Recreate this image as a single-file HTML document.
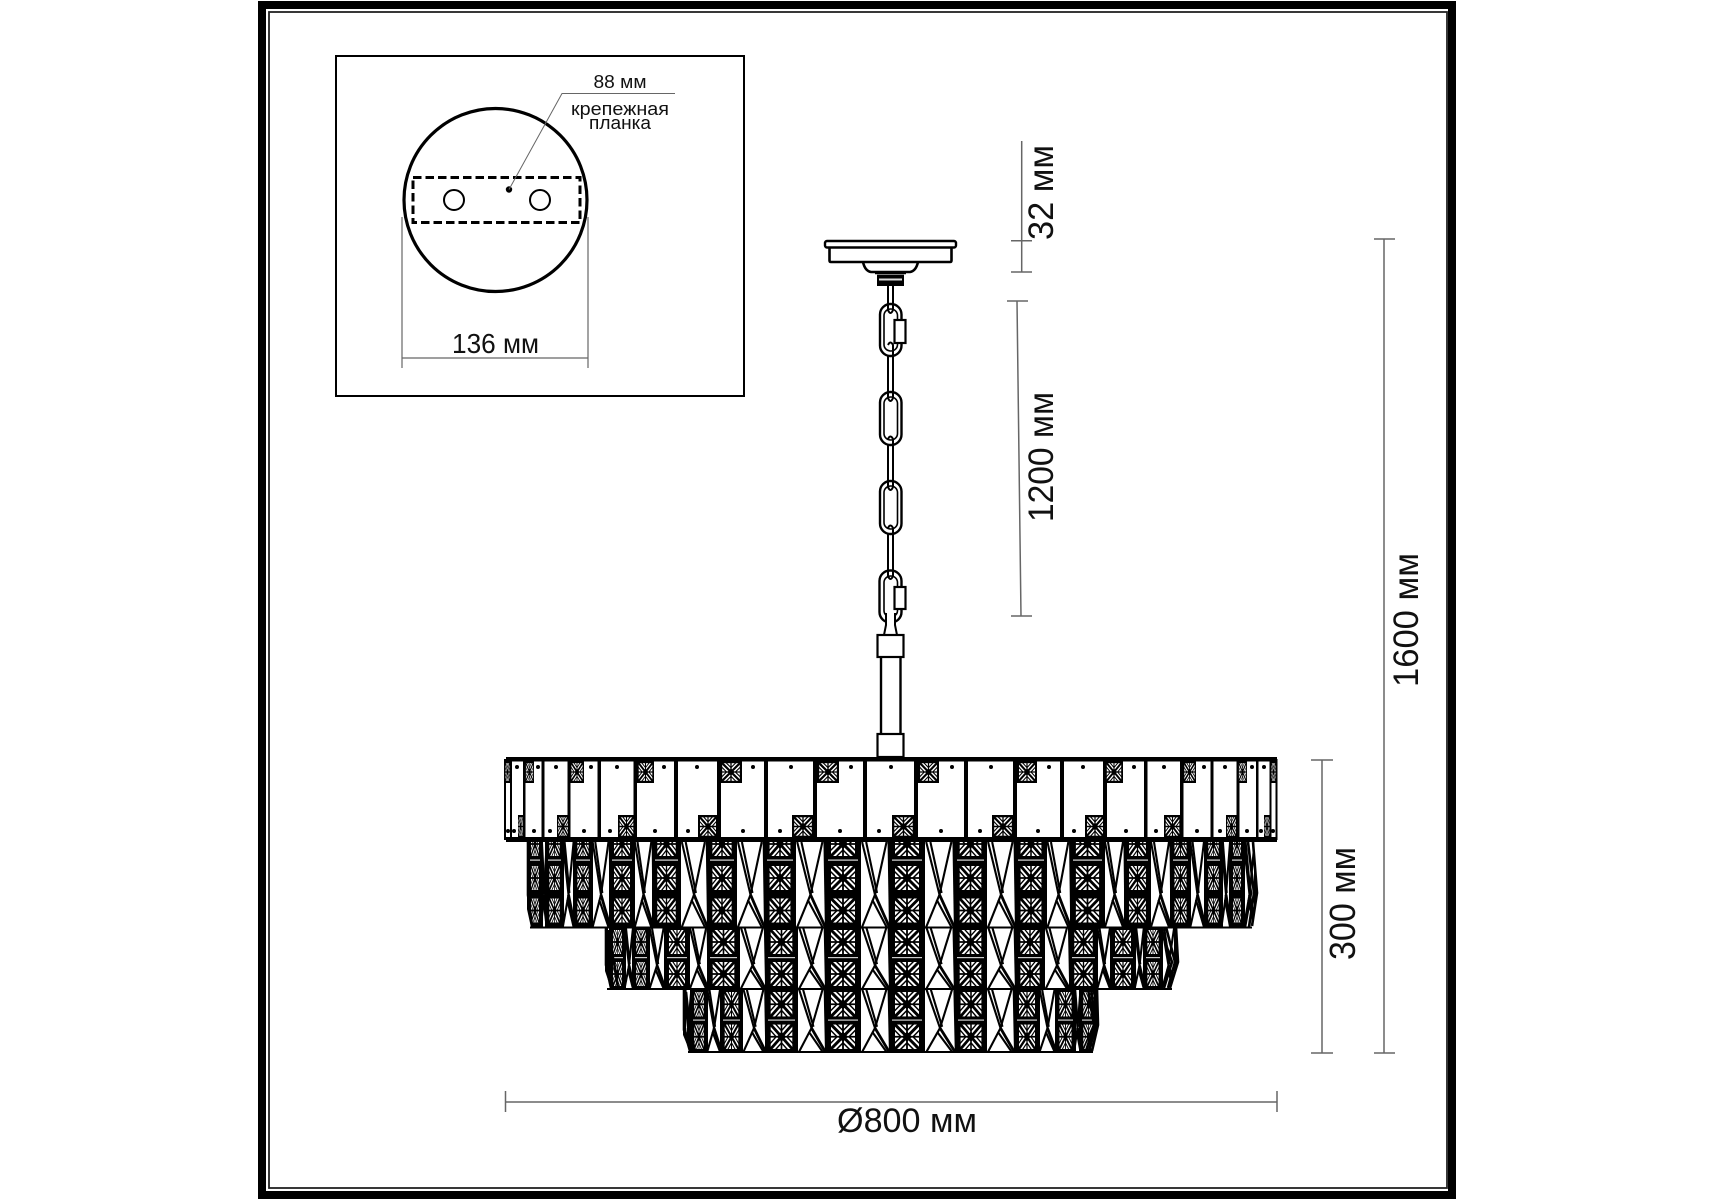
<!DOCTYPE html>
<html lang="ru"><head><meta charset="utf-8"><title>Чертёж люстры</title>
<style>
html,body{margin:0;padding:0;background:#fff}
svg{display:block}
.x *{vector-effect:non-scaling-stroke}
text{font-family:"Liberation Sans",sans-serif;fill:#111}
.d{stroke:#666;stroke-width:1.5;fill:none}
.k{stroke:#000;fill:none}
</style></head><body>
<svg xmlns="http://www.w3.org/2000/svg" width="1715" height="1200" viewBox="0 0 1715 1200">
<defs>
<g id="t0"><rect width="30" height="30" fill="#000"/><rect x="3" y="3" width="24" height="24" fill="#fff"/>
<g stroke="#000" fill="none"><path d="M2 2L28 28M28 2L2 28" stroke-width="3"/><path d="M15 2V28M2 15H28" stroke-width="1.8"/><path d="M8 2L15 9L22 2M8 28L15 21L22 28M2 8L9 15L2 22M28 8L21 15L28 22" stroke-width="1.5"/></g>
<path d="M15 10L20 15L15 20L10 15Z" fill="#000"/></g>
<symbol id="t" viewBox="0 0 30 30" preserveAspectRatio="none"><use href="#t0"/><rect x="0.5" y="0.5" width="29" height="29" fill="none" stroke="#000" stroke-width="3"/></symbol>
<symbol id="c1" viewBox="0 0 30 85" preserveAspectRatio="none"><rect width="30" height="85" fill="#000"/><use href="#t0" y="-13"/><rect y="17.5" width="30" height="1.2" fill="#ddd"/><use href="#t0" y="21"/><use href="#t0" y="53.5"/></symbol>
<symbol id="c2" viewBox="0 0 30 62" preserveAspectRatio="none"><rect width="30" height="62" fill="#000"/><use href="#t0" y="0"/><rect y="30" width="30" height="1.2" fill="#ccc"/><use href="#t0" y="32"/></symbol>
<symbol id="x" viewBox="0 0 100 100" preserveAspectRatio="none"><rect width="100" height="100" fill="#fff"/>
<g class="x" stroke="#000" fill="none" stroke-width="2.1"><line x1="0" y1="0" x2="0" y2="100" stroke-width="6"/><line x1="100" y1="0" x2="100" y2="100" stroke-width="6"/><line x1="12" y1="0" x2="50" y2="62"/><line x1="24" y1="0" x2="56" y2="60"/><line x1="84" y1="0" x2="50" y2="62"/><line x1="50" y1="62" x2="92" y2="100" stroke-width="2.8"/><line x1="42" y1="68" x2="84" y2="100"/><line x1="50" y1="62" x2="12" y2="100"/><line x1="90" y1="0" x2="94" y2="100"/></g></symbol>
</defs>
<rect width="1715" height="1200" fill="#fff"/>
<rect x="262" y="5" width="1190" height="1190" fill="none" stroke="#000" stroke-width="8"/>
<rect x="269" y="12" width="1178" height="1176" fill="none" stroke="#222" stroke-width="1.8"/>
<rect x="336" y="56" width="408" height="340" fill="#fff" stroke="#000" stroke-width="2"/>

<circle cx="495.5" cy="200" r="91.5" fill="none" stroke="#000" stroke-width="3.2"/>
<rect x="413" y="177.5" width="167" height="45" fill="none" stroke="#000" stroke-width="3" stroke-dasharray="8.5 4"/>
<circle cx="454" cy="200" r="10" fill="none" stroke="#000" stroke-width="2"/>
<circle cx="540" cy="200" r="10" fill="none" stroke="#000" stroke-width="2"/>
<circle cx="509" cy="189.5" r="3.2" fill="#000"/>
<path class="d" style="stroke-width:1" d="M509 189.5L562 93.5H675"/>
<text x="593.5" y="88" font-size="18" textLength="53" lengthAdjust="spacingAndGlyphs">88 мм</text>
<text x="571" y="115" font-size="18" textLength="98" lengthAdjust="spacingAndGlyphs">крепежная</text>
<text x="589" y="129" font-size="18" textLength="62" lengthAdjust="spacingAndGlyphs">планка</text>
<text x="452" y="353" font-size="28" textLength="87" lengthAdjust="spacingAndGlyphs">136 мм</text>
<path class="d" style="stroke-width:1.2" d="M402 217V368M588 217V368M402 358H588"/>

<!-- ceiling plate -->
<g class="k" stroke-width="2.4">
<rect x="825" y="241" width="131" height="6.5" rx="2" fill="#fff"/>
<path d="M829.5 248V260.5Q829.5 262 831 262H950Q951.5 262 951.5 260.5V248" stroke-width="2.6"/>
<path d="M863 262Q865 271 871 272H910Q916 271 918 262" stroke-width="2.6"/>
<path d="M875 273H906M877 276H904" stroke-width="2.4"/>
</g>
<rect x="877" y="276" width="27" height="10" fill="#000"/><rect x="879" y="278.5" width="23" height="2" fill="#ddd"/>

<!-- chain -->
<g class="k" stroke-width="2">
<path d="M888 286V322M893 286V322"/>
<path d="M888 345V408M893 345V408M888 434V497M893 434V497M888 523V586M893 523V586"/>
<rect x="880" y="304" width="21.5" height="52" rx="10.5" fill="#fff" stroke-width="2.4"/>
<rect x="884" y="309" width="13.5" height="42" rx="6.5" stroke-width="1.6"/>
<rect x="880" y="392" width="21.5" height="53" rx="10.5" fill="#fff" stroke-width="2.4"/>
<rect x="884" y="397" width="13.5" height="43" rx="6.5" stroke-width="1.6"/>
<rect x="880" y="481" width="21.5" height="53" rx="10.5" fill="#fff" stroke-width="2.4"/>
<rect x="884" y="486" width="13.5" height="43" rx="6.5" stroke-width="1.6"/>
<rect x="879.5" y="570.5" width="22" height="52" rx="10.5" fill="#fff" stroke-width="2.4"/>
<rect x="884" y="576" width="13.5" height="41" rx="6.5" stroke-width="1.6"/>
<path d="M888 286V310Q890.5 316 893 310V286M888 345Q890.5 340 893 345V360"/>
<path d="M888 357V398Q890.5 404 893 398V357M888 439Q890.5 434 893 439V448M888 446V487Q890.5 493 893 487V446M888 528Q890.5 523 893 528V537M888 535V576Q890.5 582 893 576V535"/>
<rect x="894.5" y="320" width="11" height="23" fill="#fff" stroke-width="2.2"/>
<rect x="894.5" y="587" width="11" height="22" fill="#fff" stroke-width="2.2"/>
<rect x="887" y="612" width="7" height="20" fill="#fff" stroke="none"/>
<path d="M886 613V625L884 635M895 613V625L897 635"/>
<rect x="877.5" y="635" width="26" height="22" fill="#fff" stroke-width="2.2"/>
<path d="M881 657V734M900.5 657V734" stroke-width="2.4"/>
<rect x="877.5" y="734" width="26" height="23" fill="#fff" stroke-width="2.2"/>
</g>

<!-- tier 3 -->
<g>
<use href="#x" x="683" y="989" width="10" height="63"/><use href="#x" x="705" y="989" width="18" height="63"/><use href="#x" x="740" y="989" width="28" height="63"/><use href="#x" x="795" y="989" width="33" height="63"/><use href="#x" x="858" y="989" width="34" height="63"/><use href="#x" x="922" y="989" width="36" height="63"/><use href="#x" x="984" y="989" width="33" height="63"/><use href="#x" x="1037" y="989" width="21" height="63"/><use href="#x" x="1073" y="989" width="9" height="63"/><use href="#x" x="1095" y="989" width="3" height="63"/>
<use href="#c2" x="693" y="989" width="12" height="63"/><use href="#c2" x="723" y="989" width="17" height="63"/><use href="#c2" x="768" y="989" width="27" height="63"/><use href="#c2" x="828" y="989" width="30" height="63"/><use href="#c2" x="892" y="989" width="30" height="63"/><use href="#c2" x="958" y="989" width="26" height="63"/><use href="#c2" x="1017" y="989" width="20" height="63"/><use href="#c2" x="1058" y="989" width="15" height="63"/><use href="#c2" x="1082" y="989" width="13" height="63"/>
</g>
<!-- tier 2 -->
<g>
<use href="#x" x="605" y="927" width="7" height="62"/><use href="#x" x="623" y="927" width="12" height="62"/><use href="#x" x="647" y="927" width="20" height="62"/><use href="#x" x="687" y="927" width="23" height="62"/><use href="#x" x="737" y="927" width="31" height="62"/><use href="#x" x="795" y="927" width="33" height="62"/><use href="#x" x="858" y="927" width="34" height="62"/><use href="#x" x="922" y="927" width="35" height="62"/><use href="#x" x="984" y="927" width="34" height="62"/><use href="#x" x="1042" y="927" width="30" height="62"/><use href="#x" x="1095" y="927" width="18" height="62"/><use href="#x" x="1133" y="927" width="13" height="62"/><use href="#x" x="1160" y="927" width="17" height="62"/>
<use href="#c2" x="612" y="927" width="11" height="62"/><use href="#c2" x="635" y="927" width="12" height="62"/><use href="#c2" x="667" y="927" width="20" height="62"/><use href="#c2" x="710" y="927" width="27" height="62"/><use href="#c2" x="768" y="927" width="27" height="62"/><use href="#c2" x="828" y="927" width="30" height="62"/><use href="#c2" x="892" y="927" width="30" height="62"/><use href="#c2" x="957" y="927" width="27" height="62"/><use href="#c2" x="1018" y="927" width="24" height="62"/><use href="#c2" x="1072" y="927" width="23" height="62"/><use href="#c2" x="1113" y="927" width="20" height="62"/><use href="#c2" x="1146" y="927" width="14" height="62"/>
</g>
<!-- tier 1 -->
<g>
<use href="#x" x="527" y="842" width="3" height="85"/><use href="#x" x="540" y="842" width="8" height="85"/><use href="#x" x="561" y="842" width="15" height="85"/><use href="#x" x="590" y="842" width="22" height="85"/><use href="#x" x="632" y="842" width="23" height="85"/><use href="#x" x="678" y="842" width="32" height="85"/><use href="#x" x="734" y="842" width="33" height="85"/><use href="#x" x="793" y="842" width="35" height="85"/><use href="#x" x="858" y="842" width="34" height="85"/><use href="#x" x="922" y="842" width="35" height="85"/><use href="#x" x="984" y="842" width="34" height="85"/><use href="#x" x="1044" y="842" width="29" height="85"/><use href="#x" x="1102" y="842" width="25" height="85"/><use href="#x" x="1148" y="842" width="25" height="85"/><use href="#x" x="1188" y="842" width="19" height="85"/><use href="#x" x="1220" y="842" width="12" height="85"/><use href="#x" x="1242" y="842" width="15" height="85"/>
<use href="#c1" x="530" y="842" width="10" height="85"/><use href="#c1" x="548" y="842" width="13" height="85"/><use href="#c1" x="576" y="842" width="14" height="85"/><use href="#c1" x="612" y="842" width="20" height="85"/><use href="#c1" x="655" y="842" width="23" height="85"/><use href="#c1" x="710" y="842" width="24" height="85"/><use href="#c1" x="767" y="842" width="26" height="85"/><use href="#c1" x="828" y="842" width="30" height="85"/><use href="#c1" x="892" y="842" width="30" height="85"/><use href="#c1" x="957" y="842" width="27" height="85"/><use href="#c1" x="1018" y="842" width="26" height="85"/><use href="#c1" x="1073" y="842" width="29" height="85"/><use href="#c1" x="1127" y="842" width="21" height="85"/><use href="#c1" x="1173" y="842" width="15" height="85"/><use href="#c1" x="1207" y="842" width="13" height="85"/><use href="#c1" x="1232" y="842" width="10" height="85"/>
</g>
<!-- silhouette trims -->
<g fill="#fff">
<path d="M525 900L531 927.5V929H525Z"/>
<path d="M1259 842H1253L1257 893L1252 927.5V929H1259Z"/>
<path d="M603 965L611 989V990H603Z"/>
<path d="M1180 927H1176L1178 962L1170 989V990H1180Z"/>
<path d="M681 1030L690 1052V1054H681Z"/>
<path d="M1100 989H1097L1098 1025L1092 1052V1054H1100Z"/>
</g>
<path class="k" stroke-width="2" d="M530 927.5H1252M607 989H1172M688 1052H1093"/>
<path class="k" stroke-width="2.6" d="M528 842V895L532 926M1253 842L1257 893L1252 926M606 927V965L611 988M1176 927L1178 962L1170 988M684 989V1030L690 1051M1097 989L1098 1025L1092 1051"/>
<path class="k" stroke-width="2.6" d="M1243 842L1251 893L1245 927M1248 842L1254 893L1249 927M606 930L614 962L618 988M609 930V962L613 988M1160 927L1172 962L1164 988M1166 927L1175 962L1168 988M686 992L690 1030L695 1051M1088 989L1094 1025L1086 1051M1091 989L1096 1025L1089 1051"/>

<!-- band -->
<rect x="505" y="759" width="771" height="81" fill="#fff"/>
<g fill="#000">
<rect x="506" y="757" width="771" height="4.5"/><rect x="506" y="837" width="771" height="5"/>
<rect x="504" y="759" width="2" height="81"/><rect x="1275.5" y="759" width="2" height="81"/>
<rect x="510" y="760" width="2" height="78"/><rect x="523" y="760" width="2.5" height="78"/><rect x="541.5" y="760" width="3" height="78"/><rect x="567.5" y="760" width="3" height="78"/><rect x="597.5" y="760" width="3.5" height="78"/><rect x="633.5" y="760" width="3.5" height="78"/><rect x="674" y="760" width="4" height="78"/><rect x="717" y="760" width="4" height="78"/><rect x="764" y="760" width="4" height="78"/><rect x="813" y="760" width="4" height="78"/><rect x="863" y="760" width="4" height="78"/><rect x="914" y="760" width="4" height="78"/><rect x="964" y="760" width="4" height="78"/><rect x="1013" y="760" width="4" height="78"/><rect x="1060" y="760" width="4" height="78"/><rect x="1103" y="760" width="4" height="78"/><rect x="1144" y="760" width="3.5" height="78"/><rect x="1180" y="760" width="3.5" height="78"/><rect x="1210.5" y="760" width="3" height="78"/><rect x="1236.5" y="760" width="3" height="78"/><rect x="1256" y="760" width="2.5" height="78"/><rect x="1269.5" y="760" width="2" height="78"/>
</g>
<use href="#t" x="505" y="761" width="5" height="22"/><use href="#t" x="525" y="761" width="9" height="22"/><use href="#t" x="570" y="761" width="14" height="22"/><use href="#t" x="637" y="761" width="17" height="22"/><use href="#t" x="720" y="761" width="22" height="22"/><use href="#t" x="817" y="761" width="22" height="22"/><use href="#t" x="918" y="761" width="21" height="22"/><use href="#t" x="1017" y="761" width="20" height="22"/><use href="#t" x="1105" y="761" width="18" height="22"/><use href="#t" x="1183" y="761" width="13" height="22"/><use href="#t" x="1238" y="761" width="9" height="22"/><use href="#t" x="1271" y="761" width="5" height="22"/>
<use href="#t" x="518" y="815" width="5.5" height="23"/><use href="#t" x="557" y="815" width="12" height="23"/><use href="#t" x="618" y="815" width="17" height="23"/><use href="#t" x="698" y="815" width="20" height="23"/><use href="#t" x="792" y="815" width="22" height="23"/><use href="#t" x="892" y="815" width="23" height="23"/><use href="#t" x="992" y="815" width="22" height="23"/><use href="#t" x="1085" y="815" width="20" height="23"/><use href="#t" x="1164" y="815" width="17" height="23"/><use href="#t" x="1226" y="815" width="11" height="23"/><use href="#t" x="1264" y="815" width="6" height="23"/>
<g fill="#000">
<circle cx="517" cy="767" r="2"/><circle cx="538" cy="767" r="2"/><circle cx="556" cy="767" r="2"/><circle cx="591" cy="767" r="2"/><circle cx="617" cy="767" r="2"/><circle cx="664" cy="767" r="2"/><circle cx="697" cy="767" r="2"/><circle cx="753" cy="767" r="2"/><circle cx="791" cy="767" r="2"/><circle cx="851" cy="767" r="2"/><circle cx="891" cy="767" r="2"/><circle cx="952" cy="767" r="2"/><circle cx="991" cy="767" r="2"/><circle cx="1049" cy="767" r="2"/><circle cx="1083" cy="767" r="2"/><circle cx="1134" cy="767" r="2"/><circle cx="1164" cy="767" r="2"/><circle cx="1204" cy="767" r="2"/><circle cx="1225" cy="767" r="2"/><circle cx="1252" cy="767" r="2"/><circle cx="1264" cy="767" r="2"/>
<circle cx="508" cy="831" r="2"/><circle cx="514" cy="831" r="2"/><circle cx="534" cy="831" r="2"/><circle cx="550" cy="831" r="2"/><circle cx="584" cy="831" r="2"/><circle cx="610" cy="831" r="2"/><circle cx="655" cy="831" r="2"/><circle cx="688" cy="831" r="2"/><circle cx="743" cy="831" r="2"/><circle cx="780" cy="831" r="2"/><circle cx="840" cy="831" r="2"/><circle cx="879" cy="831" r="2"/><circle cx="941" cy="831" r="2"/><circle cx="980" cy="831" r="2"/><circle cx="1038" cy="831" r="2"/><circle cx="1074" cy="831" r="2"/><circle cx="1126" cy="831" r="2"/><circle cx="1156" cy="831" r="2"/><circle cx="1197" cy="831" r="2"/><circle cx="1220" cy="831" r="2"/><circle cx="1247" cy="831" r="2"/><circle cx="1261" cy="831" r="2"/><circle cx="1273" cy="831" r="2"/>
</g>

<!-- dimensions -->
<path class="d" d="M1021.7 141V272M1011 240.7H1032M1011 272H1032"/>
<text transform="translate(1053,240) rotate(-90)" font-size="35" textLength="95" lengthAdjust="spacingAndGlyphs">32 мм</text>
<path class="d" d="M1017 301L1021 616M1007 301H1028M1011 616H1032"/>
<text transform="translate(1053,522) rotate(-90)" font-size="35" textLength="130" lengthAdjust="spacingAndGlyphs">1200 мм</text>
<path class="d" d="M1384 239V1053M1374 239H1395M1374 1053H1395"/>
<text transform="translate(1418,687) rotate(-90)" font-size="35" textLength="134" lengthAdjust="spacingAndGlyphs">1600 мм</text>
<path class="d" d="M1322 760V1053M1311 760H1333M1311 1053H1333"/>
<text transform="translate(1355,960) rotate(-90)" font-size="36" textLength="113" lengthAdjust="spacingAndGlyphs">300 мм</text>
<path class="d" d="M505 1102H1277M505.5 1091V1112M1277 1091V1112"/>
<text x="837" y="1132" font-size="34" textLength="140" lengthAdjust="spacingAndGlyphs">Ø800 мм</text>
</svg>
</body></html>
